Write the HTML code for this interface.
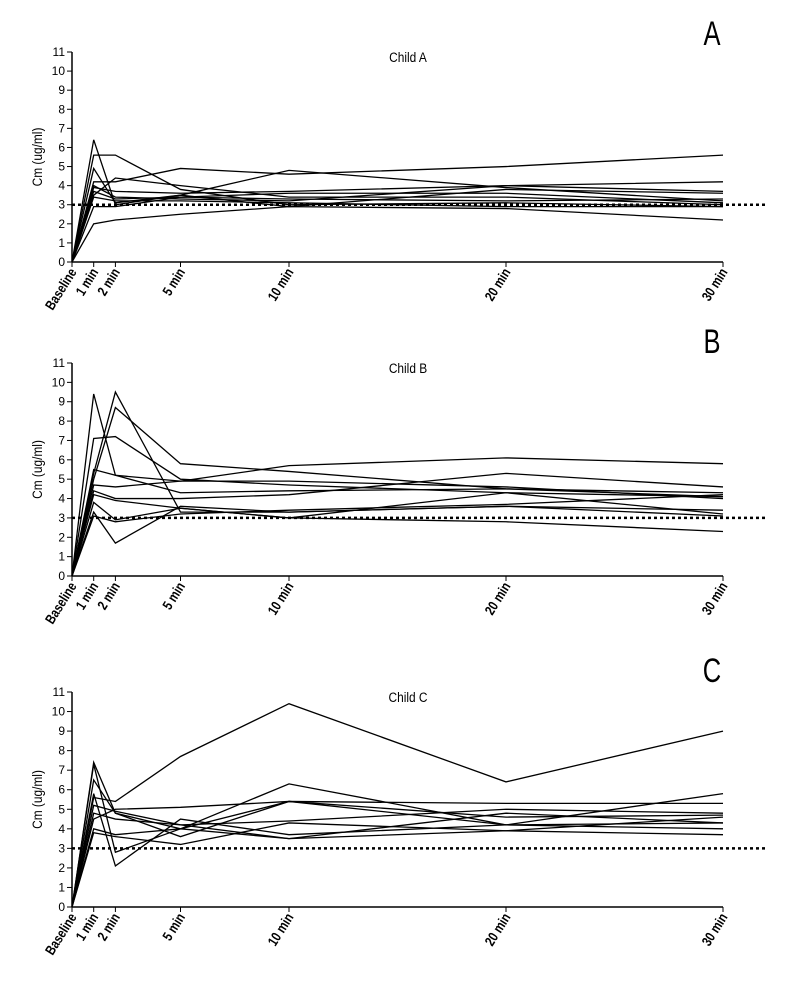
<!DOCTYPE html>
<html><head><meta charset="utf-8"><style>
body{margin:0;background:#fff;}
svg text{font-family:"Liberation Sans",sans-serif;fill:#000;}
</style></head><body>
<svg id="c" width="800" height="1000" xmlns="http://www.w3.org/2000/svg"></svg>
<script>
const times=[0,1,2,5,10,20,30];
const timeLabels=["Baseline","1 min","2 min","5 min","10 min","20 min","30 min"];
const yTicks=[0,1,2,3,4,5,6,7,8,9,10,11];
const threshold=3;
const seriesA=[
[0,6.4,3.0,3.5,2.9,3.8,3.6],[0,5.6,5.6,3.8,3.0,3.1,2.9],[0,4.9,3.1,3.5,4.8,3.9,3.2],
[0,2.0,2.2,2.5,2.9,2.8,2.2],[0,4.2,4.2,4.9,4.6,5.0,5.6],[0,3.9,3.7,3.6,3.7,4.0,4.2],
[0,4.0,3.4,3.3,3.2,4.0,3.7],[0,3.7,3.3,3.4,3.6,3.6,3.1],[0,2.9,2.9,3.4,3.3,3.2,3.3],
[0,3.4,3.2,3.2,3.1,2.9,2.9],[0,3.5,4.4,4.0,3.4,3.4,3.0]];
const seriesB=[
[0,9.4,5.2,4.9,4.9,4.6,4.0],[0,5.3,9.5,3.3,3.3,3.6,3.1],[0,7.1,7.2,5.0,4.7,4.3,4.1],
[0,5.0,8.7,5.8,5.4,4.5,4.1],[0,4.7,4.6,4.9,5.7,6.1,5.8],[0,4.4,4.0,4.0,4.2,5.3,4.6],
[0,3.3,1.7,3.6,3.3,3.6,3.4],[0,4.2,3.9,3.5,3.0,4.3,3.2],[0,3.8,2.9,3.5,3.0,2.8,2.3],
[0,3.1,2.8,3.2,3.4,3.7,4.2],[0,5.5,5.2,4.3,4.4,4.5,4.3]];
const seriesC=[
[0,5.6,5.4,7.7,10.4,6.4,9.0],[0,7.4,4.8,4.0,6.3,4.2,5.8],[0,6.5,4.8,3.6,5.4,5.3,5.3],
[0,5.8,2.1,4.5,3.7,4.2,4.3],[0,4.5,5.0,5.1,5.4,4.6,4.7],[0,7.3,2.8,4.0,5.4,4.2,4.0],
[0,3.8,3.6,3.2,4.3,3.9,4.6],[0,4.0,3.7,4.0,3.5,4.8,4.3],[0,4.8,4.5,4.2,4.4,5.0,4.8],
[0,5.2,4.9,4.2,3.5,3.9,3.7]];
const panels=[
 {letter:"A",title:"Child A",data:seriesA,y0:262,y11:52,ly:45,ty:62},
 {letter:"B",title:"Child B",data:seriesB,y0:576,y11:363,ly:353,ty:373},
 {letter:"C",title:"Child C",data:seriesC,y0:907,y11:692,ly:682,ty:702}];
const svg=document.getElementById('c');
const NS="http://www.w3.org/2000/svg";
function mk(t,a,p){const e=document.createElementNS(NS,t);for(const k in a)e.setAttribute(k,a[k]);(p||svg).appendChild(e);return e;}
const xs=t=>72+t*21.7;
panels.forEach((P,pi)=>{
 const g=mk('g',{});
 
 
 const ys=v=>P.y0-(P.y0-P.y11)*v/11;
 const ax=mk('line',{x1:72,y1:P.y11,x2:72,y2:P.y0,stroke:'#000','stroke-width':1.5},g);
 
 
 yTicks.forEach(v=>{
  mk('line',{x1:67,x2:72,y1:ys(v),y2:ys(v),stroke:'#000','stroke-width':1},g);
  const t=mk('text',{x:65,y:ys(v)+4,'text-anchor':'end','font-size':12},g);
  
  
  t.textContent=v;
 });
 const xa=mk('line',{x1:72,y1:P.y0,x2:xs(30),y2:P.y0,stroke:'#000','stroke-width':1.5},g);
 
 
 times.forEach((t,i)=>{
  mk('line',{x1:xs(t),x2:xs(t),y1:P.y0,y2:P.y0+5,stroke:'#000','stroke-width':1},g);
  const tx=mk('text',{x:0,y:0,'text-anchor':'end','font-size':14,'font-weight':'bold',transform:`translate(${xs(t)+5},${P.y0+10}) rotate(-58) scale(0.8,1)`},g);
  
  
  tx.textContent=timeLabels[i];
 });
 P.data.forEach((s,si)=>{
  const pl=mk('polyline',{points:s.map((v,i)=>xs(times[i])+','+ys(v)).join(' '),fill:'none',stroke:'#000','stroke-width':1.3},g);
  
  
 });
 const th=mk('line',{x1:72,x2:765,y1:ys(threshold),y2:ys(threshold),stroke:'#000','stroke-width':2.5,'stroke-dasharray':'3,3'},g);
 
 
 const tt=mk('text',{x:0,y:0,'text-anchor':'middle','font-size':14,transform:`translate(408,${P.ty}) scale(0.85,1)`},g);
 
 
 tt.textContent=P.title;
 const lt=mk('text',{x:0,y:0,'text-anchor':'middle','font-size':34,transform:`translate(712,${P.ly}) scale(0.75,1)`},g);
 
 
 lt.textContent=P.letter;
 const ym=(P.y0+P.y11)/2;
 const yt=mk('text',{x:0,y:0,'text-anchor':'middle','font-size':14,transform:`translate(42,${ym}) rotate(-90) scale(0.85,1)`},g);
 
 
 yt.textContent="Cm (ug/ml)";
});
</script>
</body></html>
